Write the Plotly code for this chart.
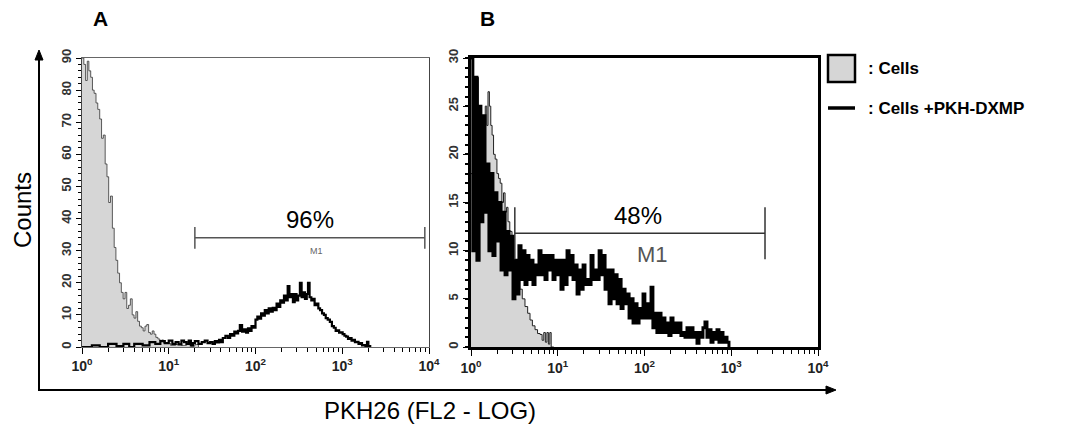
import plotly.graph_objects as go

# ---- panel A : histograms (PKH26 fluorescence, counts) ----
a_cells_x = [1.00, 1.05, 1.10, 1.15, 1.20, 1.26, 1.32, 1.38, 1.45, 1.52,
             1.60, 1.68, 1.76, 1.85, 1.94, 2.03, 2.13, 2.24, 2.35, 2.46,
             2.58, 2.71, 2.84, 2.98, 3.13, 3.28, 3.44, 3.61, 3.79, 3.98,
             4.18, 4.38, 4.60, 4.83, 5.07, 5.32, 5.58, 5.86, 6.15, 6.45,
             6.77, 7.1, 7.5, 7.9, 8.3, 8.7, 9.5, 10.5, 12, 14,
             16, 18, 20, 22]
a_cells_y = [90, 88, 83, 89, 86, 84, 80, 79, 76, 74,
             71, 65, 66, 57, 53, 45, 47, 37, 31, 27,
             23, 20, 17, 15, 17, 12, 13, 15, 10, 9,
             11, 8, 6.5, 6, 5, 6.5, 7, 4.5, 4, 5,
             4, 3, 2.5, 2, 2.2, 1.2, 1.2, 0.5, 0.8, 0.5,
             1, 0.3, 0.8, 0]

a_pkh_x = [1.0, 1.3, 1.6, 2.0, 2.5, 3.0, 3.5, 4.0, 5.0, 6.0,
           7, 8, 9, 10, 11, 12, 13, 14, 15, 16,
           17, 18, 19, 20, 22, 24, 26, 28, 30, 32,
           34, 36, 38, 40, 42, 45, 48, 51, 54, 57,
           60, 63, 66, 70, 74, 78, 82, 86, 90, 95,
           100, 105, 110, 116, 122, 128, 135, 142, 150, 158,
           166, 175, 184, 193, 203, 213, 224, 235, 246, 258,
           270, 283, 297, 310, 325, 340, 355, 372, 390, 403,
           420, 440, 460, 480, 505, 530, 555, 585, 615, 645,
           680, 720, 760, 800, 840, 880, 920, 965, 1010, 1060,
           1110, 1165, 1220, 1280, 1340, 1400, 1470, 1540, 1610, 1690,
           1770, 1850, 1930, 2000, 2100]
a_pkh_y = [0, 0.5, 0, 1, 0.3, 1, 0, 1, 0.5, 1.5,
           1, 1.8, 1.2, 2, 1, 1.5, 0.8, 2, 1.5, 1,
           2, 0.5, 1.2, 1.8, 1, 1.5, 2, 1.2, 1.5, 1,
           1.8, 1.4, 2.2, 1.5, 2.8, 3.5, 2.8, 4, 3.5, 4.8,
           4.2, 5, 6.8, 4.8, 5.5, 4.5, 5.8, 5, 6.5, 6,
           8.5, 9.5, 8.8, 10.5, 9.8, 11.5, 10.5, 12, 11, 12.2,
           11.5, 13.5, 12.5, 14.5, 13.8, 16, 14.5, 19, 15.5, 16.5,
           14, 16.5, 14.5, 16, 20, 15.5, 17, 15, 16.5, 20,
           15.5, 14.5, 15, 13, 13.5, 12, 11.5, 10.5, 10, 9,
           8.5, 7.8, 6.5, 6, 5, 5.2, 4.5, 4.6, 4, 3.5,
           3.2, 2.5, 2.8, 2, 2.2, 1.5, 1.6, 1, 1.2, 0.5,
           0.6, 0.2, 1.6, 0.3, 0]

# ---- panel B ----
b_cells_x = [1.00, 1.04, 1.08, 1.12, 1.17, 1.22, 1.27, 1.31, 1.36, 1.41,
             1.46, 1.52, 1.57, 1.63, 1.69, 1.75, 1.82, 1.90, 1.99, 2.08,
             2.17, 2.27, 2.37, 2.47, 2.57, 2.67, 2.80, 2.97, 3.10, 3.21,
             3.40, 3.67, 3.90, 4.19, 4.50, 4.79, 5.10, 5.47, 5.85, 6.25,
             6.60, 6.90, 7.20, 7.50, 7.80, 8.10, 8.40, 9.00]
b_cells_y = [18, 26, 22, 27, 28, 24, 21, 23, 21, 24,
             25, 23, 26.5, 25, 23, 22, 20, 19.5, 18, 17.5,
             17, 15, 16, 14, 14.5, 13, 12, 11, 9, 8.3,
             7, 6, 5, 4.2, 3.5, 2.8, 2.2, 1.8, 1.4, 1.3,
             0.7, 1.5, 0.5, 1.5, 0.3, 1.5, 0, 0]

b_pkh_x = [1.00, 1.05, 1.11, 1.17, 1.24, 1.30, 1.37, 1.45, 1.53, 1.61,
           1.70, 1.79, 1.89, 1.99, 2.10, 2.22, 2.34, 2.47, 2.60, 2.74,
           2.89, 3.05, 3.21, 3.39, 3.57, 3.77, 3.97, 4.19, 4.42, 4.66,
           4.91, 5.18, 5.47, 5.76, 6.08, 6.41, 6.76, 7.13, 7.52, 7.93,
           8.36, 8.82, 9.30, 9.81, 10.3, 10.9, 11.5, 12.1, 12.8, 13.5,
           14.2, 15.0, 15.8, 16.7, 17.6, 18.6, 19.6, 20.6, 21.8, 23.0,
           24.2, 25.5, 26.9, 28.4, 30.0, 31.6, 33.3, 35.1, 37.0, 39.0,
           41.2, 43.4, 45.8, 48.3, 50.9, 53.7, 56.6, 59.7, 62.9, 66.4,
           70.0, 73.8, 77.8, 82.0, 86.5, 91.2, 96.2, 101, 107, 113,
           119, 125, 132, 139, 147, 155, 163, 172, 182, 191,
           202, 213, 225, 237, 250, 263, 278, 293, 309, 326,
           343, 362, 382, 403, 425, 448, 472, 498, 525, 554,
           584, 616, 649, 685, 722, 761, 803, 847, 893, 941]
b_pkh_y = [30, 10, 28, 9, 25, 13, 24, 14, 19, 10,
           18, 9.5, 16, 11, 15, 8, 14, 7.5, 12, 8,
           11.5, 5, 9, 5.5, 10.5, 7, 10, 6.5, 9.5, 7,
           9, 6.5, 8.5, 7.5, 10, 7.5, 9.5, 7, 9.5, 8,
           9.5, 7, 9, 7.5, 9, 6, 9, 6.5, 10, 7.5,
           9.5, 7, 8.5, 5.5, 8, 6, 8.5, 6.5, 7, 6.5,
           9.5, 7, 8, 7, 10, 7.5, 9.5, 6, 8, 4.5,
           8, 5, 7.5, 4.5, 7, 4, 6, 4.5, 5.5, 3,
           5, 2.5, 4.5, 2.5, 4, 3, 5.5, 3, 4.5, 3,
           6.2, 2, 3.5, 1.5, 3.5, 1.5, 3, 1.5, 2.5, 1.2,
           3, 1.5, 2.5, 1.5, 2.5, 1.2, 1.5, 1, 2, 1,
           2, 1, 1.5, 0.4, 1.5, 1, 2, 2.6, 1, 1.8,
           0.5, 1.5, 0.8, 1.8, 0.5, 1.5, 0.5, 1, 0.5, 0]

# M1 gates (start, end, height) and percentages
gate_a_x = [20, 8950]
gate_a_y = 34
gate_b_x = [3.2, 2450]
gate_b_y = 11.8
pct_a = "96%"
pct_b = "48%"

decade_vals = [1, 10, 100, 1000, 10000]
decade_text = ["10<sup>0</sup>", "10<sup>1</sup>", "10<sup>2</sup>", "10<sup>3</sup>", "10<sup>4</sup>"]
a_yticks = [0, 10, 20, 30, 40, 50, 60, 70, 80, 90]
b_yticks = [0, 5, 10, 15, 20, 25, 30]

W, H = 1076, 431
OFF = 8  # page body margin
FONT = "Arial, Liberation Sans, sans-serif"
GRAY = "#d6d6d6"


def px(x):
    return (x - OFF) / W


def py(y):
    return (H - (y - OFF)) / H


minor_log = [m * 10 ** e for e in range(4) for m in range(2, 10)]

fig = go.Figure()

# panel A
fig.add_trace(go.Scatter(x=a_cells_x, y=a_cells_y, mode="lines", fill="tozeroy",
                         fillcolor=GRAY, line=dict(color="#333", width=0.8, shape="hv"),
                         xaxis="x", yaxis="y", showlegend=False))
fig.add_trace(go.Scatter(x=a_pkh_x, y=a_pkh_y, mode="lines",
                         line=dict(color="black", width=2.2, shape="hv"),
                         xaxis="x", yaxis="y", showlegend=False))
# panel B
fig.add_trace(go.Scatter(x=b_cells_x, y=b_cells_y, mode="lines", fill="tozeroy",
                         fillcolor=GRAY, line=dict(color="#222", width=1, shape="hv"),
                         xaxis="x2", yaxis="y2", showlegend=False))
fig.add_trace(go.Scatter(x=b_pkh_x, y=b_pkh_y, mode="lines",
                         line=dict(color="black", width=3, shape="hv"),
                         xaxis="x2", yaxis="y2", showlegend=False))

# gate markers
for gx, gy, ax_, ay_, half, col in [(gate_a_x, gate_a_y, "x", "y", 3.4, "#555"),
                                    (gate_b_x, gate_b_y, "x2", "y2", 2.7, "#333")]:
    fig.add_trace(go.Scatter(x=gx, y=[gy, gy], mode="lines", line=dict(color=col, width=1.5),
                             xaxis=ax_, yaxis=ay_, showlegend=False))
    for v in gx:
        fig.add_trace(go.Scatter(x=[v, v], y=[gy - half, gy + half], mode="lines",
                                 line=dict(color=col, width=1.5),
                                 xaxis=ax_, yaxis=ay_, showlegend=False))

xcommon = dict(type="log", range=[0, 4], showline=True, mirror=True, ticks="outside",
               ticklen=6, tickwidth=1.3, tickcolor="black", tickmode="array",
               tickvals=decade_vals, ticktext=decade_text, showgrid=False, zeroline=False,
               automargin=False,
               tickfont=dict(family=FONT, size=14, color="#222", weight="bold"),
               minor=dict(tickmode="array", tickvals=minor_log, ticks="outside",
                          ticklen=4, tickcolor="black", tickwidth=1.2))
ycommon = dict(showline=True, mirror=True, ticks="outside", ticklen=5, tickcolor="black",
               tickmode="array", tickangle=-90, showgrid=False, zeroline=False,
               automargin=False,
               tickfont=dict(family=FONT, size=13, color="#333", weight="bold"))

dom_y = [py(347), py(58)]
fig.update_layout(
    template="none",
    width=W, height=H, autosize=False,
    margin=dict(l=0, r=0, t=0, b=0, pad=0),
    font=dict(family=FONT, color="black"),
    paper_bgcolor="white", plot_bgcolor="white",
    xaxis=dict(xcommon, domain=[px(82), px(429)], anchor="y", linecolor="#666", linewidth=1),
    yaxis=dict(ycommon, domain=dom_y, anchor="x", range=[0, 90], linecolor="#444", linewidth=1.2,
               tickvals=a_yticks, ticktext=[str(v) for v in a_yticks],
               minor=dict(dtick=2, ticks="outside", ticklen=3, tickcolor="black")),
    xaxis2=dict(xcommon, domain=[px(471), px(818)], anchor="y2", linecolor="black", linewidth=2.5),
    yaxis2=dict(ycommon, domain=dom_y, anchor="x2", range=[0, 30], linecolor="black", linewidth=2.5,
                tickvals=b_yticks, ticktext=[str(v) for v in b_yticks],
                minor=dict(dtick=1, ticks="outside", ticklen=3, tickcolor="black", tickwidth=1.5)),
)

ann = [
    dict(x=2.63, y=39.6, xref="x", yref="y", text=pct_a, font=dict(size=24)),
    dict(x=2.70, y=30, xref="x", yref="y", text="M1", font=dict(size=9, color="#666")),
    dict(x=1.925, y=13.6, xref="x2", yref="y2", text=pct_b, font=dict(size=24)),
    dict(x=2.09, y=9.6, xref="x2", yref="y2", text="M1", font=dict(size=22, color="#555")),
    dict(x=px(100), y=py(18), xref="paper", yref="paper", text="<b>A</b>", font=dict(size=21)),
    dict(x=px(487), y=py(18), xref="paper", yref="paper", text="<b>B</b>", font=dict(size=21)),
    dict(x=px(22), y=py(210), xref="paper", yref="paper", text="Counts", textangle=-90,
         font=dict(size=24)),
    dict(x=px(430), y=py(410), xref="paper", yref="paper", text="PKH26 (FL2 - LOG)",
         font=dict(size=24)),
    dict(x=px(866), y=py(68), xref="paper", yref="paper", xanchor="left", text="<b>: Cells</b>",
         font=dict(size=17)),
    dict(x=px(866), y=py(108), xref="paper", yref="paper", xanchor="left",
         text="<b>: Cells +PKH-DXMP</b>", font=dict(size=17)),
]
for a in ann:
    a["showarrow"] = False
    a.setdefault("xanchor", "center")
    a["yanchor"] = "middle"
    a["font"] = dict(dict(family=FONT, color="black"), **a["font"])
fig.update_layout(annotations=ann)

# big axis arrows (lines + heads)
fig.add_shape(type="line", xref="paper", yref="paper", x0=px(39), x1=px(39),
              y0=py(390), y1=py(56), line=dict(color="black", width=2))
fig.add_shape(type="line", xref="paper", yref="paper", x0=px(38), x1=px(830),
              y0=py(390), y1=py(390), line=dict(color="black", width=2))
fig.add_shape(type="path", xref="paper", yref="paper",
              path=f"M {px(35)},{py(60)} L {px(39)},{py(50)} L {px(43)},{py(60)} Z",
              fillcolor="black", line=dict(color="black", width=1))
fig.add_shape(type="path", xref="paper", yref="paper",
              path=f"M {px(826)},{py(386)} L {px(836)},{py(390)} L {px(826)},{py(394)} Z",
              fillcolor="black", line=dict(color="black", width=1))

# legend
fig.add_shape(type="rect", xref="paper", yref="paper", x0=px(828), x1=px(855),
              y0=py(82), y1=py(55), fillcolor=GRAY, line=dict(color="black", width=2.5))
fig.add_shape(type="line", xref="paper", yref="paper", x0=px(828), x1=px(855),
              y0=py(108), y1=py(108), line=dict(color="black", width=3.5))

fig.write_html("out.html")
